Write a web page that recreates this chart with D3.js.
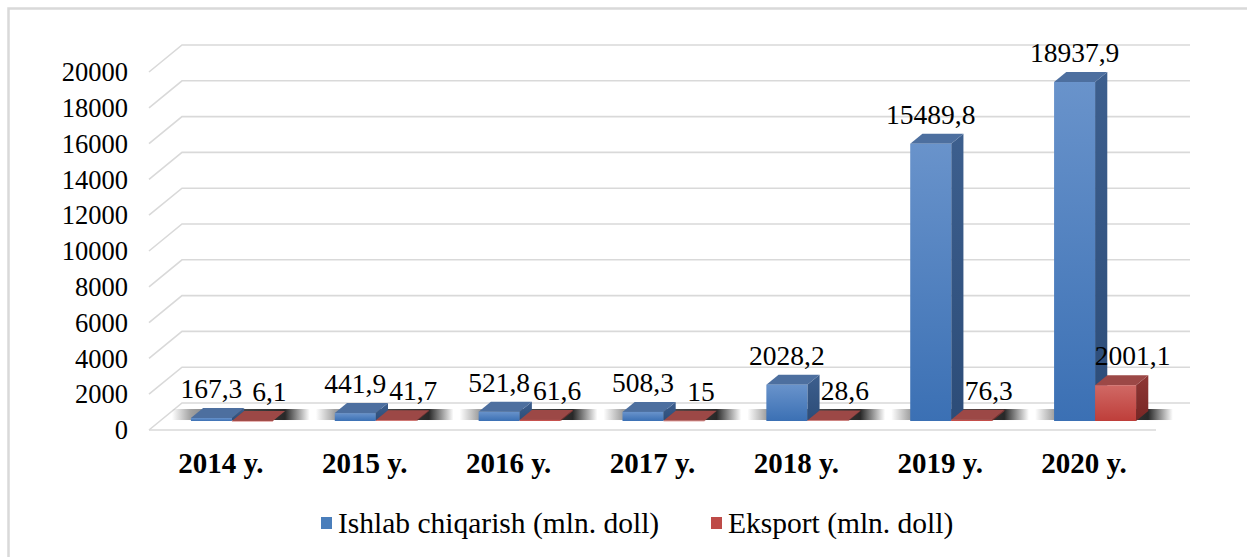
<!DOCTYPE html>
<html>
<head>
<meta charset="utf-8">
<script src="https://cdn.jsdelivr.net/npm/d3@7"></script>
<style>
  body { margin: 0; background: #fff; }
  text { font-family: "Liberation Serif", "Times New Roman", serif; fill: #000; }
</style>
</head>
<body>
<script>
// ----------------------------------- DATA --------------------------------------------
var years = ['2014 y.', '2015 y.', '2016 y.', '2017 y.', '2018 y.', '2019 y.', '2020 y.']
var production = [167.3, 441.9, 521.8, 508.3, 2028.2, 15489.8, 18937.9]
var exportVals = [6.1, 41.7, 61.6, 15, 28.6, 76.3, 2001.1]
var yTicks = [0, 2000, 4000, 6000, 8000, 10000, 12000, 14000, 16000, 18000, 20000]
var seriesNames = ['Ishlab chiqarish (mln. doll)', 'Eksport (mln. doll)']

// ----------------------------------- SVG and FRAME --------------------------------------------
var width = 1247
var height = 557

var svg = d3.select('body')
			.append('svg')
			.attr('width', width)
			.attr('height', height)

svg.append('path')
	.attr('d', 'M8.5,557 L8.5,8.5 L1247,8.5')
	.attr('fill', 'none')
	.attr('stroke', '#d9d9d9')
	.attr('stroke-width', 2.5)

// ----------------------------------- 3D GEOMETRY --------------------------------------------
var frontY = 430          // front edge of floor
var depthX = 33, depthY = -27   // floor depth offset (front -> back wall)
var barOff = 1 / 3        // bar front face sits a third into the floor
var barDepth = 0.37
var barW = 41

var x = d3.scaleBand()
		.domain(years)
		.range([149, 1156])

var h = d3.scaleLinear()
		.domain([0, 20000])
		.range([0, 358])

var fmt = function(v){ return String(v).replace('.', ',') }

// ----------------------------------- GRADIENTS --------------------------------------------
var defs = svg.append('defs')

function vGrad(id, top, bottom){
	var g = defs.append('linearGradient').attr('id', id)
		.attr('x1', 0).attr('y1', 0).attr('x2', 0).attr('y2', 1)
	g.append('stop').attr('offset', '0%').attr('stop-color', top)
	g.append('stop').attr('offset', '100%').attr('stop-color', bottom)
}
vGrad('blueFront', '#6993cb', '#3b70b4')
vGrad('blueSide', '#3d5f8e', '#2c4c78')
vGrad('redFront', '#d06965', '#be3e3a')
vGrad('redSide', '#8f3735', '#772624')

// shadow trailing each group of bars
var shadow = defs.append('linearGradient').attr('id', 'shadow')
	.attr('x1', 0).attr('y1', 0).attr('x2', 1).attr('y2', 0)
;[[0, 0], [0.13, 0.4], [0.5, 0.8], [0.78, 0.92], [0.95, 0], [1, 0]].forEach(function(s){
	shadow.append('stop').attr('offset', s[0]).attr('stop-color', '#161616').attr('stop-opacity', s[1])
})

var colors = {
	0: {front: 'url(#blueFront)', side: 'url(#blueSide)', top: '#4d6f9f', key: '#4a7ebb'},
	1: {front: 'url(#redFront)', side: 'url(#redSide)', top: '#9c4846', key: '#be4b48'}
}

// ----------------------------------- GRID AND FLOOR --------------------------------------------
var backX0 = 149 + depthX, backX1 = 1156 + depthX + 1

var grid = svg.append('g')
grid.selectAll('path')
	.data(yTicks)
	.enter()
	.append('path')
	.attr('d', function(v){
		var yf = frontY - h(v)
		return 'M149,' + yf + ' L' + backX0 + ',' + (yf + depthY) + ' L' + backX1 + ',' + (yf + depthY)
	})
	.attr('fill', 'none')
	.attr('stroke', '#d9d9d9')
	.attr('stroke-width', 1.6)

grid.append('line')
	.attr('x1', 149).attr('x2', 1156)
	.attr('y1', frontY).attr('y2', frontY)
	.attr('stroke', '#d9d9d9')
	.attr('stroke-width', 1.6)

svg.append('g').selectAll('text')
	.data(yTicks)
	.enter()
	.append('text')
	.attr('x', 128)
	.attr('y', function(v){ return frontY - h(v) })
	.attr('dy', '0.35em')
	.attr('text-anchor', 'end')
	.style('font-size', '26.5px')
	.text(function(v){ return v })

// ----------------------------------- BARS --------------------------------------------
var base = frontY + depthY * barOff
var bdx = depthX * barDepth, bdy = depthY * barDepth

var groupX = function(year){ return x(year) + x.bandwidth() / 2 + depthX * barOff }

svg.append('g').selectAll('rect')
	.data(years)
	.enter()
	.append('rect')
	.attr('x', function(d){ return groupX(d) - 60 })
	.attr('y', base + bdy - 2)
	.attr('width', 145)
	.attr('height', 11)
	.attr('fill', 'url(#shadow)')

var bars = []
years.forEach(function(y, i){
	bars.push({s: 0, year: y, v: production[i]})
	bars.push({s: 1, year: y, v: exportVals[i]})
})

var barG = svg.append('g')
	.selectAll('g')
	.data(bars)
	.enter()
	.append('g')
	.attr('transform', function(d){
		var cx = groupX(d.year)
		return 'translate(' + (d.s === 0 ? cx - barW : cx) + ',0)'
	})

barG.append('polygon')
	.attr('points', function(d){
		var t = base - h(d.v)
		return [[barW, t], [barW + bdx, t + bdy], [barW + bdx, base + bdy], [barW, base]].join(' ')
	})
	.attr('fill', function(d){ return colors[d.s].side })

barG.append('polygon')
	.attr('points', function(d){
		var t = base - h(d.v)
		return [[0, t], [barW, t], [barW + bdx, t + bdy], [bdx, t + bdy]].join(' ')
	})
	.attr('fill', function(d){ return colors[d.s].top })

barG.append('rect')
	.attr('x', 0)
	.attr('y', function(d){ return base - h(d.v) })
	.attr('width', barW)
	.attr('height', function(d){ return Math.max(h(d.v), 0.5) })
	.attr('fill', function(d){ return colors[d.s].front })

// data labels
barG.append('text')
	.attr('x', function(d){ return d.s === 0 ? barW / 2 : barW / 2 + 17 })
	.attr('y', function(d){ return base - h(d.v) + bdy - 10 })
	.attr('text-anchor', 'middle')
	.style('font-size', '27.5px')
	.text(function(d){ return fmt(d.v) })

// ----------------------------------- CATEGORY LABELS --------------------------------------------
svg.append('g').selectAll('text')
	.data(years)
	.enter()
	.append('text')
	.attr('x', function(d){ return x(d) + x.bandwidth() / 2 })
	.attr('y', 473)
	.attr('text-anchor', 'middle')
	.style('font-size', '29px')
	.style('font-weight', 'bold')
	.text(function(d){ return d })

// ----------------------------------- LEGEND --------------------------------------------
var legendX = [321, 711]
var legend = svg.append('g')
	.selectAll('g')
	.data(seriesNames)
	.enter()
	.append('g')
	.attr('transform', function(d, i){ return 'translate(' + legendX[i] + ',517)' })

legend.append('rect')
	.attr('width', 11)
	.attr('height', 12)
	.attr('fill', function(d, i){ return colors[i].key })

legend.append('text')
	.attr('x', 17)
	.attr('y', 6)
	.attr('dy', '0.35em')
	.style('font-size', '29.5px')
	.text(function(d){ return d })
</script>
</body>
</html>
